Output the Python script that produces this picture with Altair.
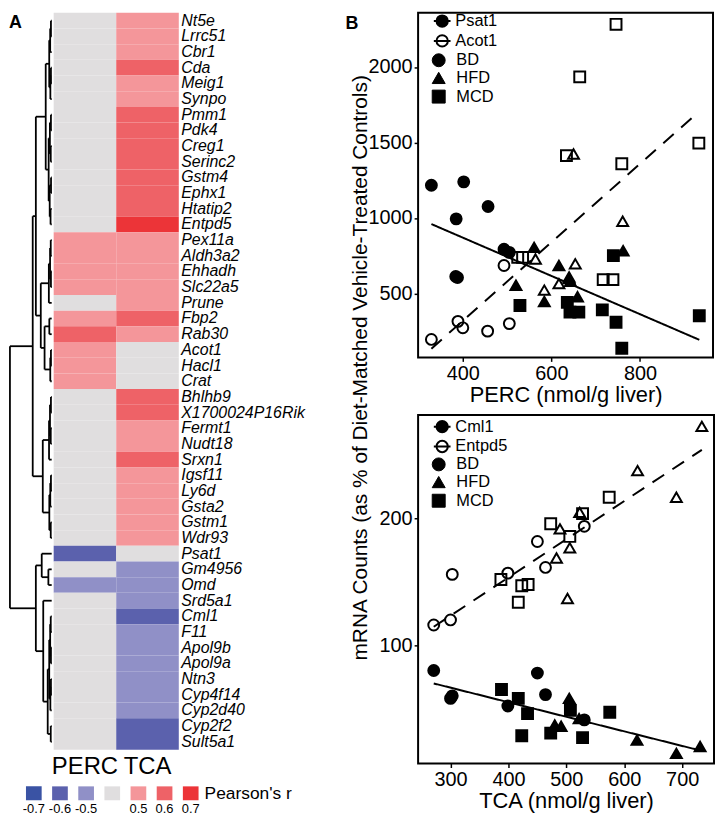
import altair as alt
import pandas as pd

FONT = "Liberation Sans"

# ---------------- Panel A : heatmap ----------------
genes = ["Nt5e", "Lrrc51", "Cbr1", "Cda", "Meig1", "Synpo", "Pmm1", "Pdk4", "Creg1", "Serinc2",
         "Gstm4", "Ephx1", "Htatip2", "Entpd5", "Pex11a", "Aldh3a2", "Ehhadh", "Slc22a5", "Prune",
         "Fbp2", "Rab30", "Acot1", "Hacl1", "Crat", "Bhlhb9", "X1700024P16Rik", "Fermt1", "Nudt18",
         "Srxn1", "Igsf11", "Ly6d", "Gsta2", "Gstm1", "Wdr93", "Psat1", "Gm4956", "Omd", "Srd5a1",
         "Cml1", "F11", "Apol9b", "Apol9a", "Ntn3", "Cyp4f14", "Cyp2d40", "Cyp2f2", "Sult5a1"]
perc_r = [0] * 14 + [0.5, 0.5, 0.5, 0.5, 0, 0.5, 0.6, 0.5, 0.5, 0.5] + [0] * 10 + [-0.6, 0, -0.5] + [0] * 10
tca_r = ([0.5, 0.5, 0.5, 0.6, 0.5, 0.5, 0.6, 0.6, 0.6, 0.6, 0.6, 0.6, 0.6, 0.7]
         + [0.5, 0.5, 0.5, 0.5, 0.5, 0.6, 0.5, 0, 0, 0]
         + [0.6, 0.6, 0.5, 0.5, 0.6, 0.5, 0.5, 0.5, 0.5, 0.5]
         + [0, -0.5, -0.5]
         + [-0.5, -0.6, -0.5, -0.5, -0.5, -0.5, -0.5, -0.5, -0.6, -0.6])
columns = ["PERC", "TCA"]

r_levels = [-0.7, -0.6, -0.5, 0, 0.5, 0.6, 0.7]
r_labels = ["-0.7", "-0.6", "-0.5", "", "0.5", "0.6", "0.7"]
r_colors = ["#3A53A4", "#5B61AD", "#9090C7", "#E0DEDF", "#F4969A", "#EE6267", "#EC3438"]

# dendrogram: (merge height, left, right); leaves are row indices
dendro_tree = (44,
               (20,
                (16.7,
                 (6.3,
                  (2.6, (1.6, (0.8, 0, 1), 2), (1.4, (0.8, 3, 4), 5)),
                  (3.2, (1.9, (0.8, 6, 7), (1.0, 8, 9)), (2.1, (0.7, 10, 11), (1.2, 12, 13)))),
                 (11.5,
                  (3.0, (1.7, (1.0, 14, 15), (0.8, 16, 17)), 18),
                  (7.5, (2.5, 19, 20), (1.5, (0.8, 21, 22), 23)))),
                (9.4,
                 (2.8, (1.8, (0.8, 24, 25), (1.0, 26, 27)), 28),
                 (2.5, (1.5, (0.8, 29, 30), 31), (1.0, 32, 33)))),
               (16.7,
                (10.5, 34, (3.5, 35, 36)),
                (8.9, 37, (4.2, (2.6, (1.6, (1.0, 38, 39), (0.8, 40, 41)),
                                 (1.4, (0.8, 42, 43), 44)),
                           (1.0, 45, 46)))))

# ---------------- Panel B : PERC scatter ----------------
psat1_bd_perc = [329, 402, 457, 385, 384, 388, 493, 505]
psat1_bd_mrna = [1217, 1239, 1076, 994, 612, 605, 793, 772]
psat1_hfd_perc = [561, 520, 584, 617, 640, 643, 659, 762]
psat1_hfd_mrna = [805, 554, 446, 685, 598, 580, 478, 783]
psat1_mcd_perc = [529, 636, 642, 662, 715, 746, 759, 740, 934]
psat1_mcd_mrna = [420, 441, 376, 376, 391, 309, 137, 750, 352]
acot1_bd_perc = [329, 389, 400, 456, 505, 493]
acot1_bd_mrna = [195, 315, 272, 250, 300, 685]
acot1_hfd_perc = [564, 584, 617, 640, 654, 761, 650]
acot1_hfd_mrna = [728, 522, 565, 609, 696, 978, 1424]
acot1_mcd_perc = [746, 664, 634, 759, 933, 524, 535, 717, 739]
acot1_mcd_mrna = [2283, 1935, 1413, 1359, 1496, 739, 739, 591, 591]

# ---------------- Panel B : TCA scatter ----------------
cml1_bd_tca = [271, 300, 303, 399, 450, 464, 531]
cml1_bd_mrna = [80, 58, 60, 52, 78, 61, 41]
cml1_hfd_tca = [505, 480, 491, 522, 622, 690, 731]
cml1_hfd_mrna = [58, 37, 36, 42, 25, 14.5, 20]
cml1_mcd_tca = [388, 417, 433, 423, 473, 507, 528, 575]
cml1_mcd_mrna = [65, 58, 46, 28.5, 30.5, 48.5, 27, 47]
entpd5_bd_tca = [271, 300, 303, 399, 450, 464, 531]
entpd5_bd_mrna = [116, 120, 156, 157, 182, 161.5, 194]
entpd5_hfd_tca = [734, 623, 690, 489, 523, 506, 483, 502]
entpd5_hfd_mrna = [273, 238, 217, 192, 205, 177, 169, 137]
entpd5_mcd_tca = [387, 423, 434, 417, 473, 506, 528, 574]
entpd5_mcd_mrna = [152, 147, 148, 134, 196, 186, 204, 217]

diets = ["BD", "HFD", "MCD"]
fit_styles = ["solid", "dashed"]

# ---------------- build tables ----------------
heat_df = pd.DataFrame(
    [{"gene": g, "col": "PERC", "r": v} for g, v in zip(genes, perc_r)]
    + [{"gene": g, "col": "TCA", "r": v} for g, v in zip(genes, tca_r)])


def walk(node, segs):
    if isinstance(node, int):
        return float(node), 0.0
    h, a, b = node
    ya, ha = walk(a, segs)
    yb, hb = walk(b, segs)
    segs.append({"x": ha, "x2": h, "y": ya, "y2": ya})
    segs.append({"x": hb, "x2": h, "y": yb, "y2": yb})
    segs.append({"x": h, "x2": h, "y": ya, "y2": yb})
    return (ya + yb) / 2, h


segs = []
walk(dendro_tree, segs)
dendro_df = pd.DataFrame(segs)

leg_df = pd.DataFrame({"idx": list(range(len(r_levels))), "r": r_levels, "label": r_labels})


def make_points(series):
    rows = []
    for gene, diet, xs, ys in series:
        for xv, yv in zip(xs, ys):
            rows.append({"gene": gene, "diet": diet, "x": xv, "y": yv})
    return pd.DataFrame(rows)


perc_df = make_points([
    ("Psat1", "BD", psat1_bd_perc, psat1_bd_mrna),
    ("Psat1", "HFD", psat1_hfd_perc, psat1_hfd_mrna),
    ("Psat1", "MCD", psat1_mcd_perc, psat1_mcd_mrna),
    ("Acot1", "BD", acot1_bd_perc, acot1_bd_mrna),
    ("Acot1", "HFD", acot1_hfd_perc, acot1_hfd_mrna),
    ("Acot1", "MCD", acot1_mcd_perc, acot1_mcd_mrna),
])
tca_df = make_points([
    ("Cml1", "BD", cml1_bd_tca, cml1_bd_mrna),
    ("Cml1", "HFD", cml1_hfd_tca, cml1_hfd_mrna),
    ("Cml1", "MCD", cml1_mcd_tca, cml1_mcd_mrna),
    ("Entpd5", "BD", entpd5_bd_tca, entpd5_bd_mrna),
    ("Entpd5", "HFD", entpd5_hfd_tca, entpd5_hfd_mrna),
    ("Entpd5", "MCD", entpd5_mcd_tca, entpd5_mcd_mrna),
])

# ---------------- Panel A chart ----------------
W_LEFT, H_LEFT = 171, 742
color_scale = alt.Scale(domain=r_levels, range=r_colors)

dendro = alt.Chart(dendro_df).mark_rule(color="black", strokeWidth=1.8).encode(
    x=alt.X("x:Q", scale=alt.Scale(domain=[0, 45], range=[43, 0]), axis=None),
    x2="x2:Q",
    y=alt.Y("y:Q", scale=alt.Scale(domain=[-0.5, len(genes) - 0.5], range=[0, H_LEFT]), axis=None),
    y2="y2:Q",
)

heat = alt.Chart(heat_df).mark_rect().encode(
    x=alt.X("col:N", sort=columns,
            scale=alt.Scale(range=[45, W_LEFT], paddingInner=0, paddingOuter=0),
            axis=alt.Axis(title=None, orient="bottom", labelAngle=0, labelFontSize=24, labelColor="black",
                          ticks=False, domain=False, labelPadding=5)),
    y=alt.Y("gene:N", sort=genes, scale=alt.Scale(paddingInner=0, paddingOuter=0),
            axis=alt.Axis(title=None, orient="right", labelFontSize=16, labelFontStyle="italic",
                          labelColor="black", ticks=False, domain=False, labelPadding=2,
                          labelOverlap=False, labelLimit=400)),
    color=alt.Color("r:O", scale=color_scale, legend=None),
)

leg_base = alt.Chart(leg_df).transform_calculate(x0="datum.idx - 0.3", x1="datum.idx + 0.3")
swatch = leg_base.mark_rect().encode(
    x=alt.X("x0:Q", scale=alt.Scale(domain=[0, 6], range=[25, 183]), axis=None),
    x2="x1:Q",
    y=alt.value(779), y2=alt.value(793),
    color=alt.Color("r:O", scale=color_scale, legend=None),
)
swatch_lab = leg_base.mark_text(baseline="top", fontSize=13, color="black").encode(
    x=alt.X("idx:Q", scale=alt.Scale(domain=[0, 6], range=[25, 183]), axis=None),
    y=alt.value(796),
    text="label:N",
)
pear = alt.Chart(pd.DataFrame({"t": ["Pearson's r"]})).mark_text(
    align="left", baseline="middle", fontSize=17.5, color="black").encode(
    x=alt.value(197), y=alt.value(787), text="t:N")
a_lab = alt.Chart(pd.DataFrame({"t": ["A"]})).mark_text(
    align="left", baseline="top", fontSize=18, fontWeight="bold", color="black").encode(
    x=alt.value(0), y=alt.value(1), text="t:N")

left = alt.layer(dendro, heat, swatch, swatch_lab, pear, a_lab).resolve_scale(
    x="independent", y="independent").properties(width=W_LEFT, height=H_LEFT)

# ---------------- Panel B charts ----------------
# legend glyph for a fitted gene: a short line with a circle on it
GENE_SYMBOL = "M-2.8,0L2.8,0M1.9,0A1.9,1.9,0,1,1,-1.9,0A1.9,1.9,0,1,1,1.9,0"


def scatter(df, gene_pair, xdom, ydom, xticks, yticks, xtitle, y_axis_extra, gene_y, diet_y,
            width, height, extra_layers=()):
    x_enc = alt.X("x:Q", scale=alt.Scale(domain=xdom, nice=False, zero=False),
                  axis=alt.Axis(values=xticks, title=xtitle, grid=False, domain=False, format="d",
                                tickSize=4, tickColor="black", tickWidth=1.5,
                                labelFontSize=20, labelColor="black", labelPadding=2,
                                titleFontSize=22, titleFontWeight="normal", titleColor="black",
                                titlePadding=1))
    y_axis_kw = dict(values=yticks, grid=False, domain=False, tickSize=4, tickColor="black", format="d",
                     tickWidth=1.5, labelFontSize=20, labelColor="black", labelPadding=2)
    y_axis_kw.update(y_axis_extra)
    y_enc = alt.Y("y:Q", scale=alt.Scale(domain=ydom, nice=False, zero=False),
                  axis=alt.Axis(**y_axis_kw))
    base = alt.Chart(df)
    lines = base.transform_regression("x", "y", groupby=["gene"]).transform_calculate(
        fit=f"datum.gene == '{gene_pair[0]}' ? 'solid' : 'dashed'").mark_line(
        color="black", strokeWidth=2).encode(
        x="x:Q", y="y:Q",
        strokeDash=alt.StrokeDash("fit:N", scale=alt.Scale(domain=fit_styles, range=[[1, 0], [14, 10]]),
                                  legend=None))
    pts = base.mark_point(filled=True, stroke="black", strokeWidth=2, size=120, opacity=1,
                          fillOpacity=1).encode(
        x=x_enc, y=y_enc,
        fill=alt.Fill("gene:N", scale=alt.Scale(domain=gene_pair, range=["black", "transparent"]),
                      legend=alt.Legend(title=None, orient="none", legendX=16, legendY=gene_y,
                                        symbolType=GENE_SYMBOL, symbolSize=36,
                                        symbolStrokeColor="black", symbolStrokeWidth=2,
                                        labelFontSize=16.5, labelColor="black", labelOffset=5,
                                        padding=0, rowPadding=0)),
        shape=alt.Shape("diet:N", scale=alt.Scale(domain=diets, range=["circle", "triangle-up", "square"]),
                        legend=alt.Legend(title=None, orient="none", legendX=12.5, legendY=diet_y,
                                          symbolSize=170, symbolFillColor="black",
                                          symbolStrokeColor="black", symbolStrokeWidth=1,
                                          labelFontSize=16.5, labelColor="black", labelOffset=9.5,
                                          padding=0, rowPadding=0.8)),
    )
    return alt.layer(lines, pts, *extra_layers).properties(
        width=width, height=height, view=alt.ViewBackground(stroke="black", strokeWidth=2))


b_lab = alt.Chart(pd.DataFrame({"t": ["B"]})).mark_text(
    align="left", baseline="top", fontSize=18, fontWeight="bold", color="black").encode(
    x=alt.value(-73), y=alt.value(2), text="t:N")

sc1 = scatter(perc_df, ["Psat1", "Acot1"], [299, 965], [76, 2359], [400, 600, 800],
              [500, 1000, 1500, 2000], "PERC (nmol/g liver)",
              dict(title="mRNA Counts (as % of Diet-Matched Vehicle-Treated Controls)",
                   titleX=-58, titleY=357, titleAngle=270, titleAlign="center",
                   titleBaseline="middle", titleFontSize=21, titleFontWeight="normal",
                   titleColor="black"),
              0.0, 39.5, 297, 347, extra_layers=(b_lab,))
sc2 = scatter(tca_df, ["Cml1", "Entpd5"], [244, 755], [6.5, 282], [300, 400, 500, 600, 700],
              [100, 200], "TCA (nmol/g liver)", dict(title=None),
              3.5, 41.5, 298, 351)

right = alt.vconcat(sc1, sc2, spacing=58, bounds="flush").resolve_scale(
    x="independent", y="independent", fill="independent", shape="independent",
    strokeDash="independent")

chart = alt.hconcat(left, right, spacing=241, bounds="flush").properties(padding=0).configure(
    font=FONT).configure_view(stroke="transparent")

chart.save("out.html", embed_options={"renderer": "svg", "actions": False})
